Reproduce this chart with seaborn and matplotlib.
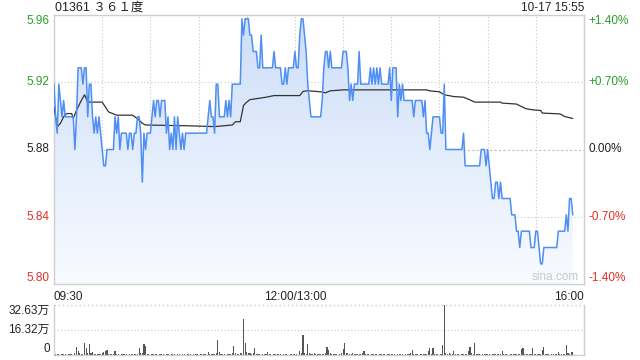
import numpy as np
import pandas as pd
import matplotlib
matplotlib.use('Agg')
import matplotlib.pyplot as plt
import seaborn as sns

# ---------------- data ----------------
prev_close = 5.88
title_text = '01361 ３６１度'
stamp_text = '10-17 15:55'

# minute-by-minute last price, 09:30 .. 15:53 (trading minutes)
price = [
    5.92, 5.90, 5.89, 5.92, 5.91, 5.90, 5.91, 5.90, 5.90, 5.90,
    5.90, 5.90, 5.90, 5.88, 5.90, 5.93, 5.93, 5.93, 5.92, 5.93,
    5.93, 5.90, 5.92, 5.92, 5.90, 5.89, 5.90, 5.89, 5.90, 5.89,
    5.88, 5.87, 5.87, 5.88, 5.88, 5.88, 5.88, 5.88, 5.90, 5.89,
    5.90, 5.88, 5.89, 5.89, 5.89, 5.89, 5.88, 5.89, 5.89, 5.88,
    5.89, 5.89, 5.90, 5.90, 5.89, 5.86, 5.89, 5.88, 5.89, 5.89,
    5.89, 5.90, 5.91, 5.90, 5.91, 5.91, 5.90, 5.91, 5.91, 5.91,
    5.89, 5.90, 5.88, 5.89, 5.88, 5.90, 5.88, 5.90, 5.89, 5.88,
    5.89, 5.88, 5.89, 5.89, 5.89, 5.89, 5.89, 5.89, 5.89, 5.89,
    5.89, 5.89, 5.89, 5.89, 5.89, 5.89, 5.90, 5.91, 5.90, 5.90,
    5.89, 5.92, 5.92, 5.90, 5.90, 5.90, 5.90, 5.91, 5.90, 5.91,
    5.90, 5.92, 5.92, 5.92, 5.92, 5.92, 5.92, 5.96, 5.95, 5.96,
    5.96, 5.96, 5.95, 5.95, 5.94, 5.94, 5.94, 5.93, 5.93, 5.95,
    5.93, 5.93, 5.93, 5.93, 5.93, 5.93, 5.93, 5.94, 5.93, 5.93,
    5.93, 5.93, 5.92, 5.92, 5.93, 5.92, 5.93, 5.93, 5.93, 5.93,
    5.94, 5.93, 5.93, 5.95, 5.96, 5.96, 5.95, 5.94, 5.92, 5.91,
    5.90, 5.90, 5.90, 5.90, 5.90, 5.90, 5.90, 5.91, 5.93, 5.94,
    5.94, 5.93, 5.94, 5.93, 5.93, 5.93, 5.93, 5.93, 5.93, 5.93,
    5.94, 5.94, 5.94, 5.93, 5.91, 5.92, 5.91, 5.92, 5.92, 5.92,
    5.94, 5.92, 5.92, 5.92, 5.92, 5.92, 5.92, 5.93, 5.92, 5.93,
    5.92, 5.93, 5.92, 5.93, 5.92, 5.92, 5.92, 5.92, 5.92, 5.93,
    5.91, 5.93, 5.93, 5.93, 5.90, 5.92, 5.91, 5.92, 5.91, 5.91,
    5.91, 5.91, 5.91, 5.91, 5.90, 5.91, 5.91, 5.91, 5.91, 5.91,
    5.90, 5.91, 5.89, 5.89, 5.88, 5.89, 5.90, 5.90, 5.90, 5.90,
    5.90, 5.89, 5.89, 5.92, 5.88, 5.88, 5.88, 5.88, 5.88, 5.88,
    5.88, 5.88, 5.88, 5.88, 5.88, 5.89, 5.87, 5.87, 5.87, 5.87,
    5.87, 5.87, 5.87, 5.87, 5.87, 5.87, 5.88, 5.88, 5.88, 5.87,
    5.88, 5.87, 5.86, 5.85, 5.85, 5.86, 5.86, 5.85, 5.86, 5.85,
    5.85, 5.85, 5.85, 5.85, 5.85, 5.84, 5.84, 5.84, 5.83, 5.83,
    5.82, 5.83, 5.83, 5.83, 5.83, 5.83, 5.83, 5.82, 5.82, 5.82,
    5.83, 5.83, 5.82, 5.81, 5.81, 5.82, 5.82, 5.82, 5.82, 5.82,
    5.82, 5.82, 5.82, 5.82, 5.83, 5.83, 5.83, 5.83, 5.83, 5.84,
    5.83, 5.85, 5.85, 5.84,
]

# average-price line, read at its turning points (minute, price)
avg_minute = [0, 2, 4, 6, 8, 11, 12, 14, 15, 17,
              19, 21, 30, 34, 39, 49, 53, 55, 57, 84,
              100, 111, 113, 116, 118, 120, 122, 132, 137, 153,
              155, 158, 166, 169, 172, 180, 232, 234, 240, 243,
              249, 255, 258, 262, 278, 279, 288, 291, 294, 298,
              303, 304, 315, 318, 323]
avg_price = [5.906, 5.894, 5.896, 5.900, 5.902, 5.902, 5.899, 5.904, 5.906, 5.910,
             5.9135, 5.909, 5.909, 5.903, 5.901, 5.901, 5.898, 5.896, 5.895, 5.8945,
             5.894, 5.895, 5.897, 5.897, 5.907, 5.909, 5.9105, 5.912, 5.913, 5.913,
             5.9155, 5.916, 5.9153, 5.9147, 5.9159, 5.9165, 5.9165, 5.9159, 5.9153, 5.9135,
             5.9124, 5.912, 5.9108, 5.909, 5.909, 5.9084, 5.9078, 5.9063, 5.9049, 5.9043,
             5.9039, 5.9023, 5.9018, 5.9002, 5.899]

# volume per minute, in 万 shares
volume = [
    1.2, 0.5, 0.4, 0.8, 0.3, 0.5, 0.4, 0.6, 0.3, 0.5,
    0.4, 0.7, 0.3, 1.2, 5.4, 2.8, 1.0, 0.6, 0.9, 7.6,
    4.8, 1.5, 7.4, 1.2, 2.0, 0.8, 0.5, 0.6, 0.4, 0.9,
    1.5, 2.0, 2.6, 3.2, 0.7, 0.5, 0.4, 0.6, 2.6, 0.5,
    0.4, 0.3, 0.5, 0.6, 0.4, 0.8, 0.3, 0.5, 0.4, 0.6,
    0.5, 0.7, 0.4, 4.8, 1.0, 1.0, 7.0, 6.0, 0.5, 0.4,
    0.3, 0.5, 0.6, 0.4, 0.5, 0.3, 0.6, 0.4, 0.5, 0.3,
    0.4, 0.5, 0.3, 0.6, 0.4, 0.5, 0.3, 0.4, 0.6, 0.3,
    0.5, 0.4, 0.3, 0.5, 0.6, 0.4, 0.3, 0.5, 0.4, 0.6,
    0.3, 0.5, 0.4, 0.6, 0.5, 0.3, 1.7, 0.5, 0.4, 0.6,
    0.5, 1.0, 9.8, 2.0, 0.6, 0.4, 0.5, 0.3, 0.6, 0.4,
    0.5, 1.2, 5.9, 1.0, 0.4, 0.6, 1.0, 1.5, 23.5, 8.0,
    1.8, 1.0, 1.5, 0.8, 1.2, 4.6, 0.6, 0.4, 0.5, 0.3,
    0.6, 0.4, 0.5, 1.7, 0.4, 0.6, 0.3, 0.5, 0.4, 0.6,
    0.5, 0.4, 0.3, 0.6, 0.4, 0.5, 0.3, 0.4, 0.5, 0.6,
    0.4, 0.5, 0.3, 2.6, 1.0, 13.0, 1.5, 0.8, 7.2, 1.0,
    0.6, 0.4, 1.0, 0.5, 0.4, 0.6, 0.5, 0.4, 0.6, 1.0,
    5.0, 3.3, 1.0, 0.5, 0.4, 0.6, 0.5, 0.3, 0.6, 1.2,
    4.0, 7.8, 1.5, 1.2, 0.6, 0.5, 1.0, 0.4, 0.6, 0.5,
    0.4, 0.8, 1.2, 2.6, 0.6, 0.4, 0.5, 0.3, 0.6, 0.4,
    0.5, 0.4, 0.3, 0.6, 0.4, 0.5, 0.6, 0.3, 0.5, 0.4,
    0.6, 0.4, 0.5, 0.3, 0.4, 0.6, 0.5, 0.4, 0.3, 0.6,
    0.5, 0.4, 1.0, 3.3, 0.6, 0.4, 0.5, 0.3, 0.6, 0.4,
    0.5, 0.4, 0.6, 2.8, 4.4, 0.8, 4.4, 0.6, 0.4, 0.5,
    0.3, 0.6, 6.5, 32.63, 1.0, 0.5, 1.2, 0.6, 0.4, 2.6,
    0.5, 0.4, 0.6, 0.3, 0.5, 0.4, 0.6, 0.5, 2.6, 5.4,
    1.2, 0.5, 8.0, 0.6, 0.4, 0.5, 0.3, 0.6, 0.4, 0.5,
    0.4, 0.6, 0.3, 0.5, 0.4, 0.6, 0.5, 0.4, 0.6, 2.6,
    0.5, 0.4, 0.6, 0.3, 0.5, 0.4, 0.6, 0.5, 0.4, 0.6,
    0.8, 3.7, 4.6, 0.6, 0.4, 0.5, 0.6, 0.4, 4.6, 0.5,
    0.4, 0.6, 0.5, 0.4, 3.3, 5.2, 0.6, 0.4, 0.5, 0.3,
    0.6, 0.4, 0.5, 0.6, 1.7, 0.4, 0.5, 0.6, 0.4, 6.5,
    1.2, 0.5, 1.7, 2.2,
]

pct_ticks = [1.40, 0.70, 0.00, -0.70, -1.40]
price_labels = ['5.96', '5.92', '5.88', '5.84', '5.80']
pct_labels = ['+1.40%', '+0.70%', '0.00%', '-0.70%', '-1.40%']
time_ticks = [0, 150, 330]
time_labels = ['09:30', '12:00/13:00', '16:00']
vol_ticks = [32.63, 16.32, 0]
vol_labels = ['32.63万', '16.32万', '0']
total_minutes = 330

# ---------------- styling ----------------
sns.set_theme(style='white')
plt.rcParams['font.family'] = ['Liberation Sans', 'Noto Sans CJK SC', 'DejaVu Sans']

GREEN = '#2a9f2a'
RED = '#e3302a'
DARK = '#222222'
GRID = '#c8c8c8'
FRAME = '#cfcfcf'
BLUE = '#4f8ef2'

W, H = 640, 360
fig = plt.figure(figsize=(W / 100, H / 100), dpi=100)
fig.patch.set_facecolor('white')


def rect(x0, y0, x1, y1):
    return [x0 / W, 1 - y1 / H, (x1 - x0) / W, (y1 - y0) / H]


ax = fig.add_axes(rect(54, 15, 584, 284))
axv = fig.add_axes(rect(54, 305, 584, 355))

ylo = prev_close * (1 - 0.014)
yhi = prev_close * (1 + 0.014)

df = pd.DataFrame({'minute': np.arange(len(price)), 'price': price, 'volume': volume})
dfa = pd.DataFrame({'minute': avg_minute, 'avg': avg_price})

# gradient fill under the price line
poly = ax.fill_between(df['minute'], df['price'], ylo, facecolor='none', edgecolor='none')
top_c = np.array([0.80, 0.87, 0.975])
bot_c = np.array([0.975, 0.985, 1.0])
t = np.linspace(0, 1, 256)[:, None]
grad = (top_c[None, :] * (1 - t) + bot_c[None, :] * t)[:, None, :]
im = ax.imshow(grad, extent=[0, total_minutes, ylo, yhi], aspect='auto',
               origin='upper', zorder=1, interpolation='bilinear')
im.set_clip_path(poly.get_paths()[0], transform=ax.transData)

# grid lines
for m in range(30, total_minutes, 30):
    ax.axvline(m, color=GRID, lw=0.8, ls=(0, (1, 2)), zorder=0.5)
for p in pct_ticks[1:-1]:
    yv = prev_close * (1 + p / 100)
    ax.axhline(yv, color='#bdbdbd' if p == 0 else GRID, lw=0.8,
               ls=(0, (2, 2)) if p == 0 else (0, (1, 2)), zorder=0.5)

sns.lineplot(data=dfa, x='minute', y='avg', ax=ax, color='#333333', lw=0.9, zorder=3)
sns.lineplot(data=df, x='minute', y='price', ax=ax, color=BLUE, lw=1.1, zorder=4)

ax.set_xlim(0, total_minutes)
ax.set_ylim(ylo, yhi)
ax.set_xticks([])
ax.set_yticks([])
ax.set_xlabel('')
ax.set_ylabel('')
for s in ax.spines.values():
    s.set_color(FRAME)
    s.set_linewidth(1.0)

# y labels (price left, percent right)
fs = 8.5
for i, (pl, pc, pt) in enumerate(zip(price_labels, pct_labels, pct_ticks)):
    frac = (prev_close * (1 + pt / 100) - ylo) / (yhi - ylo)
    col = GREEN if pt > 0 else (RED if pt < 0 else DARK)
    va = 'top' if i == 0 else ('bottom' if i == len(pct_ticks) - 1 else 'center')
    ax.text(-0.008, frac, pl, transform=ax.transAxes, ha='right', va=va,
            color=col, fontsize=fs)
    ax.text(1.008, frac, pc, transform=ax.transAxes, ha='left', va=va,
            color=col, fontsize=fs)

# time labels
has = ['left', 'center', 'right']
for tt, tl, ha_ in zip(time_ticks, time_labels, has):
    ax.text(tt, -0.025, tl, transform=ax.get_xaxis_transform(), ha=ha_, va='top',
            color=DARK, fontsize=fs)

# watermark
ax.text(0.945, 0.025, 'sina.com', transform=ax.transAxes, ha='center', va='center',
        color='#c8c8c8', fontsize=8.5, zorder=5)

# header texts
fig.text(55 / W, 1 - 8 / H, title_text, ha='left', va='center', color=DARK, fontsize=9)
fig.text(584 / W, 1 - 8 / H, stamp_text, ha='right', va='center', color=DARK, fontsize=8.5)

# ---------------- volume panel ----------------
sns.barplot(data=df, x='minute', y='volume', native_scale=True, ax=axv,
            color='#555555', saturation=1, width=0.7, linewidth=0, errorbar=None)
axv.set_xlim(0, total_minutes)
axv.set_ylim(0, vol_ticks[0])
axv.set_xticks([])
axv.set_yticks([])
axv.set_xlabel('')
axv.set_ylabel('')
axv.axhline(vol_ticks[1], color=GRID, lw=0.8, ls=(0, (1, 2)), zorder=0.5)
axv.spines['top'].set_visible(False)
axv.axhline(vol_ticks[0], color=GRID, lw=1.0, ls=(0, (1, 2)), clip_on=False)
for k in ['left', 'right', 'bottom']:
    axv.spines[k].set_color(FRAME)
    axv.spines[k].set_linewidth(1.0)
for i, (vt, vl) in enumerate(zip(vol_ticks, vol_labels)):
    va = 'top' if i == 0 else ('bottom' if i == len(vol_ticks) - 1 else 'center')
    axv.text(-0.008, vt / vol_ticks[0], vl, transform=axv.transAxes, ha='right',
             va=va, color=DARK, fontsize=fs)

fig.savefig('out.png', dpi=100)
